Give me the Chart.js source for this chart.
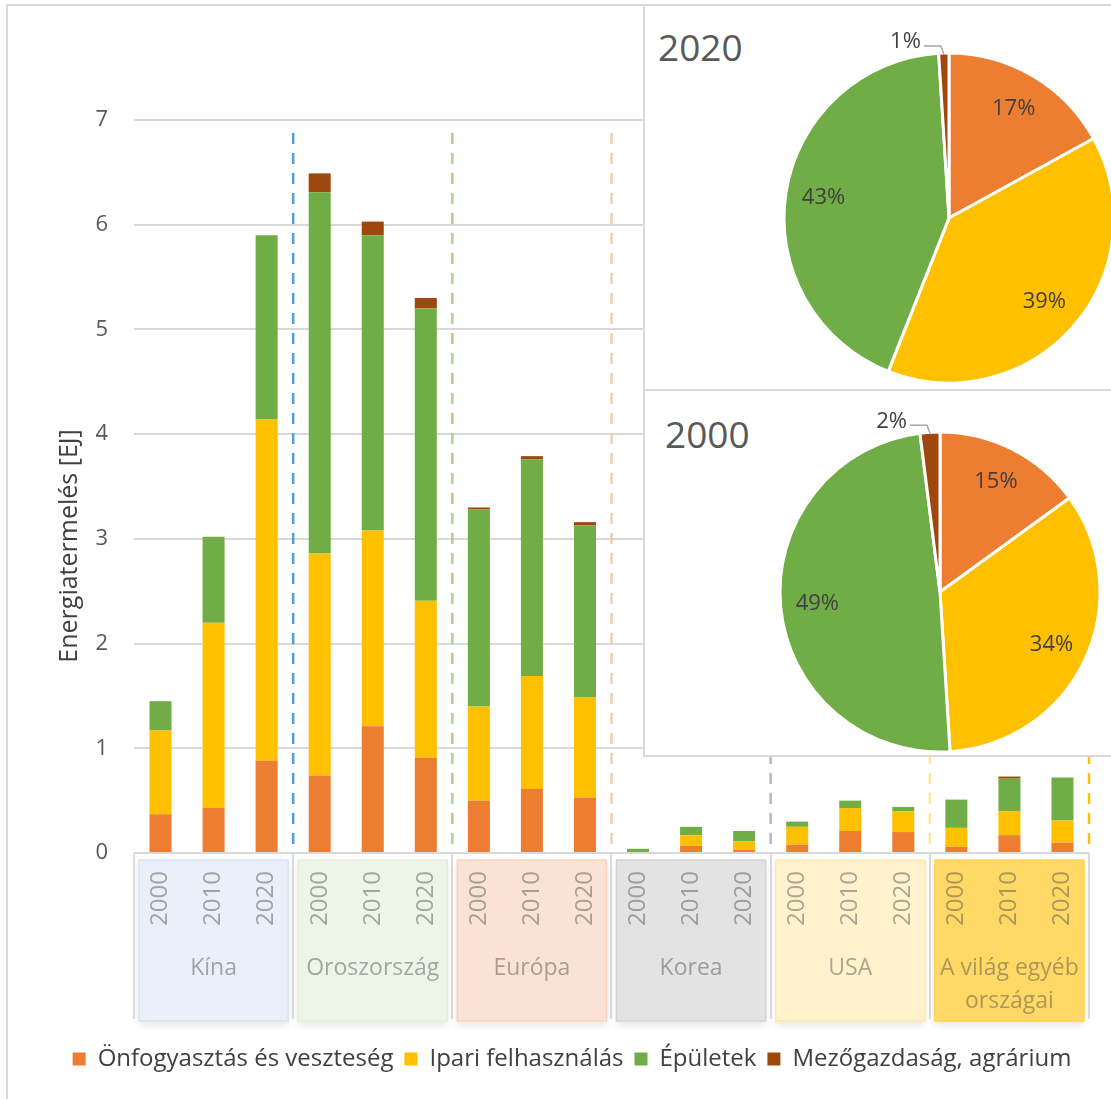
<!DOCTYPE html>
<html lang="hu">
<head>
<meta charset="utf-8">
<title>Energiatermelés</title>
<script src="https://cdn.jsdelivr.net/npm/chart.js@4.4.1/dist/chart.umd.min.js"></script>
<style>
  html, body { margin: 0; padding: 0; background: #fff; }
  body { width: 1111px; height: 1099px; overflow: hidden; position: relative; font-family: 'Open Sans', sans-serif; }
  #main { position: absolute; left: 0; top: 0; }
  #frame { position: absolute; left: 6px; top: 4px; width: 1200px; height: 1200px; border: 2px solid #d9d9d9; box-sizing: border-box; pointer-events: none; }
  .piebox { position: absolute; left: 643px; width: 520px; background: #fff; border: 2px solid #d9d9d9; box-sizing: border-box; overflow: hidden; }
  #box2020 { top: 4px; height: 387px; }
  #box2000 { top: 389px; height: 368px; }
  .pietitle { position: absolute; font-size: 37px; line-height: 37px; color: #595959; }
  .piebox canvas { position: absolute; }
</style>
</head>
<body>
<canvas id="main" width="1111" height="1099"></canvas>
<div id="frame"></div>
<div class="piebox" id="box2020">
  <div class="pietitle" style="left:13px;top:22px;">2020</div>
  <canvas id="pie2020" width="440" height="440" style="left:84px;top:-8px;"></canvas>
</div>
<div class="piebox" id="box2000">
  <div class="pietitle" style="left:20px;top:24px;">2000</div>
  <canvas id="pie2000" width="420" height="420" style="left:85px;top:-9px;"></canvas>
</div>
<script>
// ---- data ----
const regions = ['Kína', 'Oroszország', 'Európa', 'Korea', 'USA', ['A világ egyéb', 'országai']];
const years = ['2000', '2010', '2020'];
const seriesNames = ['Önfogyasztás és veszteség', 'Ipari felhasználás', 'Épületek', 'Mezőgazdaság, agrárium'];

// EJ per region and year (2000, 2010, 2020 for each region in order)
const onfogyasztas = [0.37, 0.43, 0.88, 0.74, 1.21, 0.91, 0.50, 0.61, 0.53, 0.00, 0.07, 0.03, 0.08, 0.21, 0.20, 0.06, 0.17, 0.10];
const ipari        = [0.80, 1.77, 3.26, 2.12, 1.87, 1.50, 0.90, 1.08, 0.96, 0.00, 0.10, 0.08, 0.17, 0.22, 0.20, 0.18, 0.23, 0.21];
const epuletek     = [0.28, 0.82, 1.76, 3.45, 2.82, 2.79, 1.88, 2.07, 1.64, 0.04, 0.08, 0.10, 0.05, 0.07, 0.04, 0.27, 0.31, 0.41];
const mezogazdasag = [0.00, 0.00, 0.00, 0.18, 0.13, 0.10, 0.02, 0.03, 0.03, 0.00, 0.00, 0.00, 0.00, 0.00, 0.00, 0.00, 0.02, 0.00];

const yMin = 0, yMax = 7, yStep = 1;

// shares of the world total, %
const pie2020 = [17, 39, 43, 1];
const pie2000 = [15, 34, 49, 2];

// ---- styling ----
const seriesColors = ['#ed7d31', '#ffc000', '#70ad47', '#9e480e'];
const groupFills = ['#e9f0f9', '#edf5e9', '#fae3d5', '#e3e3e3', '#fff2cc', '#ffd966'];
const groupEdges = ['#dae3f3', '#e2efda', '#f8d3bb', '#d4d4d4', '#ffe9a8', '#ffd44f'];
const dividerColors = ['#5b9bd5', '#a9d18e', '#f8cbad', '#adb9ca', '#ffe699', '#ffc000'];
const FONT = "'Open Sans', sans-serif";
const softText = 'rgba(70,70,70,0.45)';

Chart.defaults.font.family = FONT;

const xLabels = regions.flatMap(() => years);

// Grouped category boxes under the axis, region names, dashed group dividers, axis title
const groupAxis = {
  id: 'groupAxis',
  beforeDraw(chart) {
    const { ctx, chartArea: area } = chart;
    const xs = chart.scales.x;
    const n = years.length;
    const cw = xs.getPixelForTick(1) - xs.getPixelForTick(0);
    ctx.save();
    regions.forEach((name, g) => {
      const x0 = xs.getPixelForTick(g * n) - cw / 2;
      const x1 = xs.getPixelForTick(g * n + n - 1) + cw / 2;
      const top = area.bottom + 7, h = 161;
      ctx.save();
      ctx.shadowColor = 'rgba(0,0,0,0.10)';
      ctx.shadowBlur = 8;
      ctx.shadowOffsetY = 4;
      ctx.fillStyle = groupFills[g];
      ctx.fillRect(x0 + 5, top, x1 - x0 - 10, h);
      ctx.restore();
      ctx.strokeStyle = groupEdges[g];
      ctx.lineWidth = 1.5;
      ctx.strokeRect(x0 + 5, top, x1 - x0 - 10, h);

      const lines = Array.isArray(name) ? name : [name];
      ctx.fillStyle = softText;
      ctx.font = '23px ' + FONT;
      ctx.textAlign = 'center';
      ctx.textBaseline = 'middle';
      lines.forEach((t, i) => ctx.fillText(t, (x0 + x1) / 2, area.bottom + 115 + i * 33));
    });
    // tick separators below the axis
    ctx.strokeStyle = '#d9d9d9';
    ctx.lineWidth = 2;
    for (let g = 0; g <= regions.length; g++) {
      const x = Math.round(xs.getPixelForTick(0) - cw / 2 + g * n * cw);
      ctx.beginPath();
      ctx.moveTo(x, area.bottom);
      ctx.lineTo(x, area.bottom + 166);
      ctx.stroke();
    }
    // axis title
    ctx.save();
    ctx.translate(70, 546);
    ctx.rotate(-Math.PI / 2);
    ctx.fillStyle = '#404040';
    ctx.font = '25px ' + FONT;
    ctx.textAlign = 'center';
    ctx.textBaseline = 'middle';
    ctx.fillText('Energiatermelés [EJ]', 0, 0);
    ctx.restore();
    ctx.restore();
  },
  beforeDatasetsDraw(chart) {
    const { ctx, chartArea: area } = chart;
    const xs = chart.scales.x;
    const n = years.length;
    const cw = xs.getPixelForTick(1) - xs.getPixelForTick(0);
    ctx.save();
    ctx.setLineDash([11, 9]);
    ctx.lineWidth = 2.5;
    for (let g = 1; g <= regions.length; g++) {
      const x = xs.getPixelForTick(0) - cw / 2 + g * n * cw;
      ctx.strokeStyle = dividerColors[g - 1];
      ctx.beginPath();
      ctx.moveTo(x, area.top + 13);
      ctx.lineTo(x, area.bottom);
      ctx.stroke();
    }
    ctx.restore();
  }
};

new Chart(document.getElementById('main'), {
  type: 'bar',
  data: {
    labels: xLabels,
    datasets: [
      { label: seriesNames[0], data: onfogyasztas, backgroundColor: seriesColors[0] },
      { label: seriesNames[1], data: ipari, backgroundColor: seriesColors[1] },
      { label: seriesNames[2], data: epuletek, backgroundColor: seriesColors[2] },
      { label: seriesNames[3], data: mezogazdasag, backgroundColor: seriesColors[3] }
    ]
  },
  options: {
    responsive: false,
    animation: false,
    events: [],
    layout: { padding: { top: 120, right: 22, bottom: 18, left: 55 } },
    datasets: { bar: { barPercentage: 0.415, categoryPercentage: 1, borderWidth: 0 } },
    scales: {
      x: {
        stacked: true,
        grid: { display: false, drawTicks: false },
        border: { display: false },
        ticks: {
          autoSkip: false, minRotation: 90, maxRotation: 90, padding: 18,
          color: softText, font: { size: 24 }
        },
        afterFit(scale) { scale.height = 183; }
      },
      y: {
        stacked: true,
        min: yMin, max: yMax,
        grid: { color: '#d9d9d9', lineWidth: 2, drawTicks: false },
        border: { display: false },
        ticks: { stepSize: yStep, padding: 26, color: '#595959', font: { size: 22 } },
        afterFit(scale) { scale.width = 79; }
      }
    },
    plugins: {
      legend: {
        position: 'bottom',
        labels: { boxWidth: 13, boxHeight: 13, padding: 11, color: '#404040', font: { size: 24 } }
      },
      tooltip: { enabled: false }
    }
  },
  plugins: [groupAxis]
});

// Percentage labels on the pies; thin slices get a leader line
const pieLabels = {
  id: 'pieLabels',
  afterDatasetsDraw(chart) {
    const { ctx } = chart;
    const meta = chart.getDatasetMeta(0);
    const vals = chart.data.datasets[0].data;
    ctx.save();
    ctx.font = '22px ' + FONT;
    ctx.fillStyle = '#404040';
    meta.data.forEach((arc, i) => {
      const p = arc.getProps(['x', 'y', 'startAngle', 'endAngle', 'outerRadius'], true);
      const mid = (p.startAngle + p.endAngle) / 2;
      const text = vals[i] + '%';
      if (vals[i] >= 5) {
        const r = p.outerRadius * 0.77;
        ctx.textAlign = 'center';
        ctx.textBaseline = 'middle';
        ctx.fillText(text, p.x + Math.cos(mid) * r, p.y + Math.sin(mid) * r);
      } else {
        const ax = p.x + Math.cos(mid) * (p.outerRadius - 1);
        const ay = p.y + Math.sin(mid) * (p.outerRadius - 1);
        const ex = ax - 3, ey = ay - 8;
        const lx = ex - 17;
        ctx.strokeStyle = '#a6a6a6';
        ctx.lineWidth = 1.5;
        ctx.beginPath();
        ctx.moveTo(ax, ay);
        ctx.lineTo(ex, ey);
        ctx.lineTo(lx, ey);
        ctx.stroke();
        ctx.textAlign = 'right';
        ctx.textBaseline = 'middle';
        ctx.fillText(text, lx - 3, ey - 4);
      }
    });
    ctx.restore();
  }
};

function makePie(id, values, radius) {
  new Chart(document.getElementById(id), {
    type: 'pie',
    data: {
      labels: seriesNames,
      datasets: [{ data: values, backgroundColor: seriesColors, borderColor: '#ffffff', borderWidth: 3 }]
    },
    options: {
      responsive: false,
      animation: false,
      events: [],
      radius: radius,
      plugins: { legend: { display: false }, tooltip: { enabled: false } }
    },
    plugins: [pieLabels]
  });
}
makePie('pie2020', pie2020, 165);
makePie('pie2000', pie2000, 160);
</script>
</body>
</html>
